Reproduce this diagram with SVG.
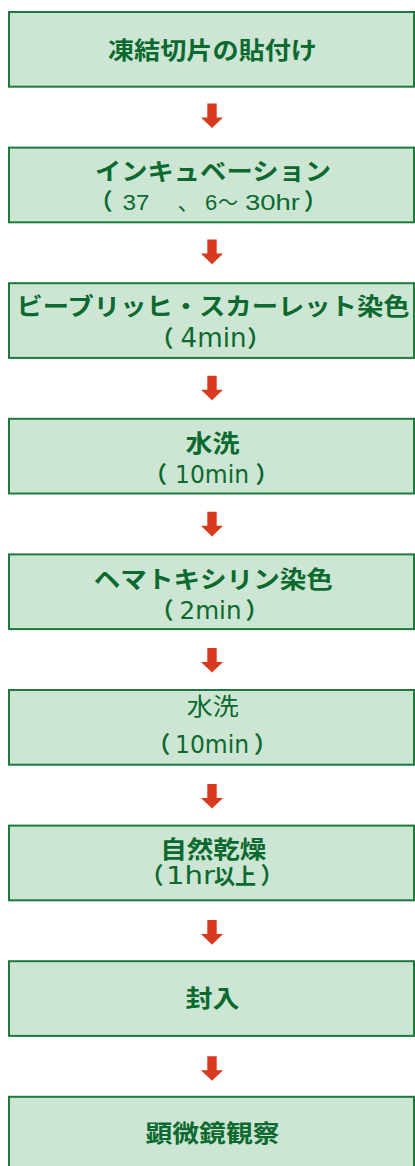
<svg xmlns="http://www.w3.org/2000/svg" width="415" height="1166" viewBox="0 0 415 1166">
<style>
.box{fill:#cde6d4;stroke:#1d7a3e;stroke-width:2}
.t{font-family:"Noto Sans CJK JP","Noto Sans CJK SC",sans-serif;font-weight:bold;font-size:24px;fill:#0c6a30;text-anchor:middle}
.tr{font-family:"Noto Sans CJK JP","Noto Sans CJK SC",sans-serif;font-weight:normal;font-size:24px;fill:#0c6a30;text-anchor:middle}
.lat{font-family:"DejaVu Sans",sans-serif;font-size:24px;fill:#0c6a30}
.ar{font-family:"Liberation Sans",Arial,sans-serif;font-size:22px;fill:#0c6a30}
.par{font-family:"Noto Sans CJK JP","Noto Sans CJK SC",sans-serif;font-weight:bold;font-size:23px;fill:#0c6a30}
.cj{font-family:"Noto Sans CJK JP","Noto Sans CJK SC",sans-serif;font-size:22px;fill:#0c6a30}
.arrow{fill:#d9391e}
</style>
<defs>
<path id="arr" d="M-4.7,0H4.7V14H11L0,24.6L-11,14H-4.7Z"/>
</defs>
<g id="connectors" class="arrow">
<use href="#arr" x="212" y="103.5"/>
<use href="#arr" x="212" y="239.6"/>
<use href="#arr" x="212" y="375.7"/>
<use href="#arr" x="212" y="511.8"/>
<use href="#arr" x="212" y="647.9"/>
<use href="#arr" x="212" y="784"/>
<use href="#arr" x="212" y="920.1"/>
<use href="#arr" x="212" y="1056.2"/>
</g>
<g id="n1">
<rect class="box" x="9" y="12" width="405" height="74.7"/>
<text class="t" x="212.5" y="58.5" textLength="209" lengthAdjust="spacingAndGlyphs">凍結切片の貼付け</text>
</g>
<g id="n2">
<rect class="box" x="9" y="147.6" width="405" height="74.7"/>
<text class="t" x="213" y="180" textLength="236" lengthAdjust="spacingAndGlyphs">インキュベーション</text>
<text y="209.5"><tspan class="par" x="89.5">（</tspan><tspan class="ar" x="122.5" textLength="27" lengthAdjust="spacingAndGlyphs">37</tspan><tspan class="cj" x="177.5">、</tspan><tspan class="ar" x="205">6</tspan><tspan class="cj" x="218" textLength="20" lengthAdjust="spacingAndGlyphs">～</tspan><tspan class="ar" x="245" textLength="55" lengthAdjust="spacingAndGlyphs">30hr</tspan><tspan class="par" x="304">）</tspan></text>
</g>
<g id="n3">
<rect class="box" x="9" y="283.2" width="405" height="74.7"/>
<text class="t" x="213" y="315" textLength="393" lengthAdjust="spacingAndGlyphs">ビーブリッヒ・スカーレット染色</text>
<text y="346.7"><tspan class="par" x="150.6">（</tspan><tspan class="lat" x="180.5" style="font-size:26px" textLength="66" lengthAdjust="spacingAndGlyphs">4min</tspan><tspan class="par" x="247.2">）</tspan></text>
</g>
<g id="n4">
<rect class="box" x="9" y="418.8" width="405" height="74.7"/>
<text class="t" x="212.5" y="451.5" textLength="54" lengthAdjust="spacingAndGlyphs">水洗</text>
<text y="483"><tspan class="par" x="144">（</tspan><tspan class="lat" x="175" style="font-size:24px" textLength="74" lengthAdjust="spacingAndGlyphs">10min</tspan><tspan class="par" x="255.5">）</tspan></text>
</g>
<g id="n5">
<rect class="box" x="9" y="554.4" width="405" height="74.7"/>
<text class="t" x="213.3" y="588" textLength="239" lengthAdjust="spacingAndGlyphs">ヘマトキシリン染色</text>
<text y="618.5"><tspan class="par" x="150.6">（</tspan><tspan class="lat" x="179.5" textLength="62" lengthAdjust="spacingAndGlyphs">2min</tspan><tspan class="par" x="245.5">）</tspan></text>
</g>
<g id="n6">
<rect class="box" x="9" y="690" width="405" height="74.7"/>
<text class="tr" x="212.8" y="715" textLength="52" lengthAdjust="spacingAndGlyphs">水洗</text>
<text y="753.3"><tspan class="par" x="147.3">（</tspan><tspan class="lat" x="175" style="font-size:24px" textLength="74" lengthAdjust="spacingAndGlyphs">10min</tspan><tspan class="par" x="254">）</tspan></text>
</g>
<g id="n7">
<rect class="box" x="9" y="825.6" width="405" height="74.7"/>
<text class="t" x="213.3" y="858" textLength="106" lengthAdjust="spacingAndGlyphs">自然乾燥</text>
<text y="884"><tspan class="par" x="140.6">（</tspan><tspan class="lat" x="166" style="font-size:25px" textLength="49" lengthAdjust="spacingAndGlyphs">1hr</tspan><tspan class="par" x="214" style="font-size:22px" textLength="42" lengthAdjust="spacingAndGlyphs">以上</tspan><tspan class="par" x="260.5">）</tspan></text>
</g>
<g id="n8">
<rect class="box" x="9" y="961.2" width="405" height="74.7"/>
<text class="t" x="212.5" y="1007" textLength="54" lengthAdjust="spacingAndGlyphs">封入</text>
</g>
<g id="n9">
<rect class="box" x="9" y="1096.8" width="405" height="74.7"/>
<text class="t" x="212.5" y="1142" textLength="134" lengthAdjust="spacingAndGlyphs">顕微鏡観察</text>
</g>
</svg>
